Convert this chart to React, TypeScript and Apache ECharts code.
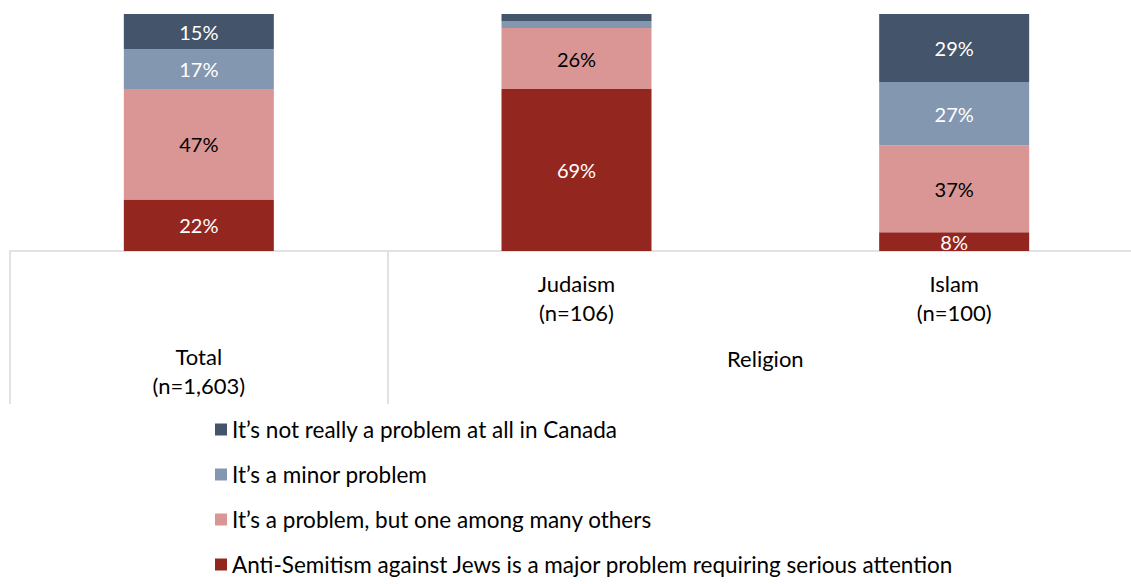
import React, { useEffect, useRef } from 'react';
import * as echarts from 'echarts';

const categories = ['Total\n(n=1,603)', 'Judaism\n(n=106)', 'Islam\n(n=100)'];
const groupLabels = ['Total\n(n=1,603)', 'Religion'];
const seriesNames = [
  'Anti-Semitism against Jews is a major problem requiring serious attention',
  'It\u2019s a problem, but one among many others',
  'It\u2019s a minor problem',
  'It\u2019s not really a problem at all in Canada',
];
const majorProblem = [22, 69, 8];
const oneAmongMany = [47, 26, 37];
const minorProblem = [17, 3, 27];
const notAProblem = [15, 3, 29];
const colors = ['#942620', '#DA9694', '#8497B0', '#44546A'];
const labelColors = ['#ffffff', '#000000', '#ffffff', '#ffffff'];

const FONT = 'Lato';

export default function App() {
  const ref = useRef<HTMLDivElement>(null);
  useEffect(() => {
    if (!ref.current) return;
    const chart = echarts.init(ref.current, undefined, { renderer: 'svg' });
    const data = [majorProblem, oneAmongMany, minorProblem, notAProblem];
    const series = data.map((d, i) => ({
      name: seriesNames[i],
      type: 'bar',
      stack: 'total',
      barWidth: 150,
      data: d,
      itemStyle: { color: colors[i] },
      label: {
        show: true,
        position: 'inside',
        color: labelColors[i],
        fontFamily: FONT,
        fontSize: 20,
        formatter: (p: any) => (p.value >= 5 ? p.value + '%' : ''),
      },
    }));
    chart.setOption({
      animation: false,
      textStyle: { fontFamily: FONT },
      grid: { left: 10, top: 14, width: 1133, height: 237 },
      xAxis: {
        type: 'category',
        data: categories,
        axisLine: { show: true, lineStyle: { color: '#D9D9D9', width: 1.5 } },
        axisTick: {
          show: true,
          length: 153,
          interval: (index: number) => index <= 1,
          lineStyle: { color: '#D9D9D9', width: 1.5 },
        },
        axisLabel: {
          interval: 0,
          margin: 18,
          fontFamily: FONT,
          fontSize: 22,
          lineHeight: 29,
          color: '#000',
          formatter: (v: string, i: number) => (i === 0 ? '' : v),
        },
      },
      yAxis: { type: 'value', min: 0, max: 101, show: false },
      legend: {
        orient: 'vertical',
        left: 215,
        top: 418,
        height: 200,
        padding: 0,
        itemWidth: 12,
        itemHeight: 12,
        itemGap: 22,
        icon: 'rect',
        data: [seriesNames[3], seriesNames[2], seriesNames[1], seriesNames[0]],
        textStyle: { fontFamily: FONT, fontSize: 22.5, lineHeight: 22, color: '#000' },
      },
      series,
    });
    const x0 = chart.convertToPixel({ xAxisIndex: 0 }, categories[0]) as number;
    const x1 = chart.convertToPixel({ xAxisIndex: 0 }, categories[1]) as number;
    const x2 = chart.convertToPixel({ xAxisIndex: 0 }, categories[2]) as number;
    chart.setOption({
      graphic: [
        {
          type: 'text',
          x: x0,
          y: 371,
          style: {
            text: groupLabels[0],
            fontFamily: FONT,
            fontSize: 22,
            lineHeight: 29,
            fill: '#000',
            align: 'center',
            verticalAlign: 'middle',
          },
        },
        {
          type: 'text',
          x: (x1 + x2) / 2,
          y: 358,
          style: {
            text: groupLabels[1],
            fontFamily: FONT,
            fontSize: 22,
            fill: '#000',
            align: 'center',
            verticalAlign: 'middle',
          },
        },
      ],
    });
    return () => chart.dispose();
  }, []);
  return (
    <div
      ref={ref}
      style={{ position: 'fixed', left: 0, top: 0, width: 1160, height: 584, background: '#fff' }}
    />
  );
}
